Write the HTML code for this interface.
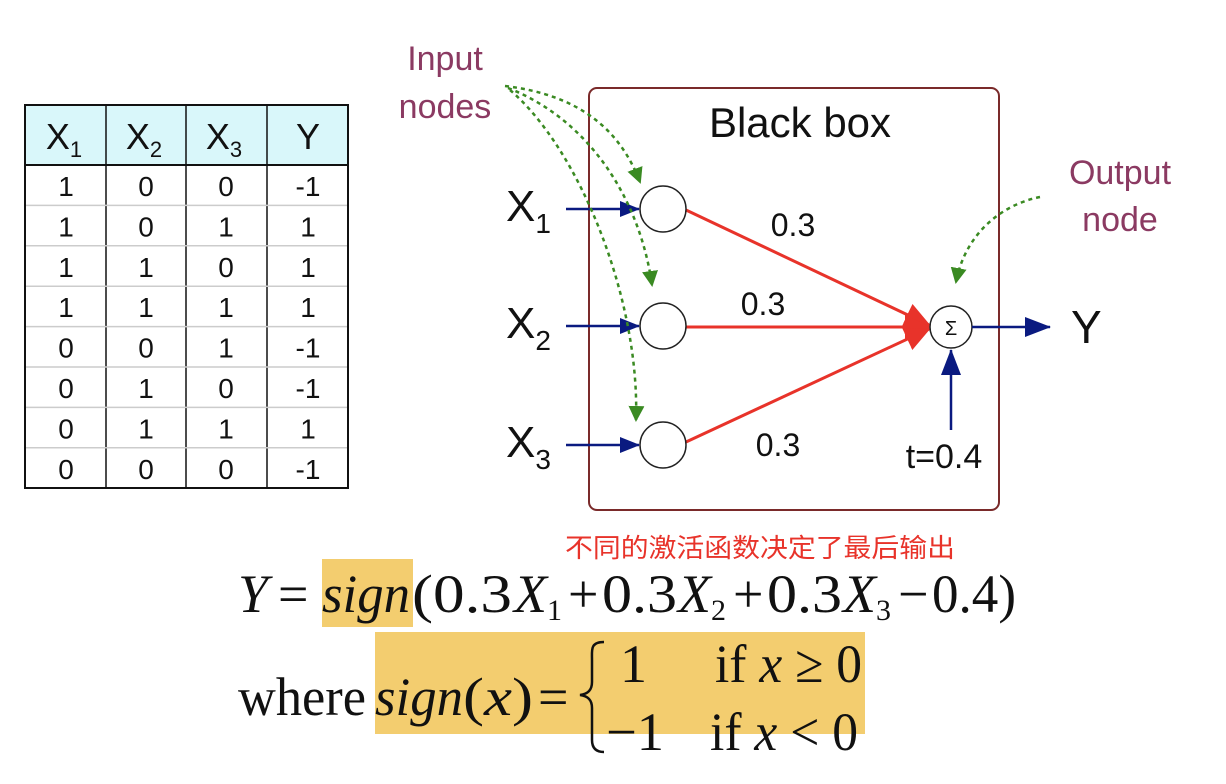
<!DOCTYPE html>
<html><head><meta charset="utf-8"><style>
html,body{margin:0;padding:0;background:#fff;}
svg{display:block;}
text{font-family:"Liberation Sans","Noto Sans CJK SC",sans-serif;}
.m{font-family:"Liberation Serif",serif;}
</style></head><body>
<svg width="1226" height="784" viewBox="0 0 1226 784">
<defs>
<marker id="ab" markerWidth="20" markerHeight="16" refX="19" refY="8" orient="auto" markerUnits="userSpaceOnUse" viewBox="0 0 20 16"><path d="M0,0 L20,8 L0,16 z" fill="#0a1a80"/></marker>
<marker id="ab2" markerWidth="26" markerHeight="20" refX="25" refY="10" orient="auto" markerUnits="userSpaceOnUse" viewBox="0 0 26 20"><path d="M0,0 L26,10 L0,20 z" fill="#0a1a80"/></marker>
<marker id="ag" markerWidth="16" markerHeight="16" refX="14" refY="8" orient="auto" markerUnits="userSpaceOnUse" viewBox="0 0 16 16"><path d="M0,0 L16,8 L0,16 z" fill="#3a8a22"/></marker>
<marker id="ar" markerWidth="26" markerHeight="24" refX="24" refY="12" orient="auto" markerUnits="userSpaceOnUse" viewBox="0 0 26 24"><path d="M0,0 L26,12 L0,24 z" fill="#e8332a"/></marker>
</defs>

<g>
<rect x="25" y="105" width="323" height="60" fill="#d9f7fa"/>
<rect x="25" y="105" width="323" height="383" fill="none" stroke="#111" stroke-width="2"/>
<line x1="25" y1="165" x2="348" y2="165" stroke="#111" stroke-width="2"/>
<g stroke="#111" stroke-width="1.5"><line x1="106" y1="105" x2="106" y2="488"/><line x1="186" y1="105" x2="186" y2="488"/><line x1="267" y1="105" x2="267" y2="488"/></g>
<g stroke="#ccc" stroke-width="1.5" id="rowlines"></g>
<g font-size="36" text-anchor="middle" fill="#111">
<text x="64" y="149">X<tspan font-size="22" dy="8">1</tspan></text>
<text x="144" y="149">X<tspan font-size="22" dy="8">2</tspan></text>
<text x="224" y="149">X<tspan font-size="22" dy="8">3</tspan></text>
<text x="308" y="149">Y</text>
</g>
<g id="cells" font-size="28" text-anchor="middle" fill="#111"></g>
</g>

<rect x="589" y="88" width="410" height="422" rx="8" fill="none" stroke="#7a2a2a" stroke-width="2"/>
<text x="800" y="137" font-size="42" text-anchor="middle" fill="#111">Black box</text>

<g stroke="#e8332a" stroke-width="3" fill="none">
<line x1="686" y1="210" x2="929" y2="325" marker-end="url(#ar)"/>
<line x1="686" y1="327" x2="929" y2="327" marker-end="url(#ar)"/>
<line x1="686" y1="442" x2="929" y2="329" marker-end="url(#ar)"/>
</g>
<g font-size="32" fill="#111" text-anchor="middle">
<text x="793" y="236">0.3</text>
<text x="763" y="315">0.3</text>
<text x="778" y="456">0.3</text>
</g>

<g fill="#fff" stroke="#222" stroke-width="1.5">
<circle cx="663" cy="209" r="23"/>
<circle cx="663" cy="326" r="23"/>
<circle cx="663" cy="445" r="23"/>
<circle cx="951" cy="327" r="21"/>
</g>
<text x="951" y="335" font-size="20" text-anchor="middle" fill="#111">Σ</text>

<g stroke="#0a1a80" stroke-width="2.5">
<line x1="566" y1="209" x2="639" y2="209" marker-end="url(#ab)"/>
<line x1="566" y1="326" x2="639" y2="326" marker-end="url(#ab)"/>
<line x1="566" y1="445" x2="639" y2="445" marker-end="url(#ab)"/>
<line x1="972" y1="327" x2="1050" y2="327" marker-end="url(#ab2)"/>
<line x1="951" y1="430" x2="951" y2="350" marker-end="url(#ab2)"/>
</g>
<g font-size="44" fill="#111">
<text x="506" y="221">X<tspan font-size="28" dy="12">1</tspan></text>
<text x="506" y="338">X<tspan font-size="28" dy="12">2</tspan></text>
<text x="506" y="457">X<tspan font-size="28" dy="12">3</tspan></text>
<text x="1071" y="343" font-size="46">Y</text>
<text x="944" y="468" font-size="34" text-anchor="middle">t=0.4</text>
</g>

<g font-size="34" fill="#8b3a62" text-anchor="middle">
<text x="445" y="70">Input</text>
<text x="445" y="118">nodes</text>
<text x="1120" y="184">Output</text>
<text x="1120" y="231">node</text>
</g>
<g stroke="#3a8a22" stroke-width="2.5" stroke-dasharray="4,4" fill="none">
<path d="M505,86 C580,95 620,130 640,182" marker-end="url(#ag)"/>
<path d="M508,88 C590,120 640,200 652,285" marker-end="url(#ag)"/>
<path d="M510,90 C580,150 640,300 636,420" marker-end="url(#ag)"/>
<path d="M1040,197 C1000,205 965,235 956,282" marker-end="url(#ag)"/>
</g>

<text x="565" y="557" font-size="26" fill="#e8332a" textLength="390" lengthAdjust="spacingAndGlyphs">不同的激活函数决定了最后输出</text>

<rect x="322" y="559" width="91" height="68" fill="#f3cd6f"/>
<rect x="375" y="632" width="490" height="102" fill="#f3cd6f"/>
<g class="m" fill="#111" font-size="54">
<text class="m" x="238" y="612" font-style="italic">Y</text>
<text class="m" x="278" y="612">=</text>
<text class="m" x="322" y="612" font-style="italic" textLength="88" lengthAdjust="spacingAndGlyphs">sign</text>
<text class="m" x="412" y="612" textLength="100" lengthAdjust="spacingAndGlyphs">(0.3</text>
<text class="m" x="514" y="612" font-style="italic">X</text>
<text class="m" x="547" y="620" font-size="30">1</text>
<text class="m" x="568" y="612">+</text>
<text class="m" x="602" y="612" textLength="75" lengthAdjust="spacingAndGlyphs">0.3</text>
<text class="m" x="678" y="612" font-style="italic">X</text>
<text class="m" x="711" y="620" font-size="30">2</text>
<text class="m" x="733" y="612">+</text>
<text class="m" x="767" y="612" textLength="75" lengthAdjust="spacingAndGlyphs">0.3</text>
<text class="m" x="843" y="612" font-style="italic">X</text>
<text class="m" x="876" y="620" font-size="30">3</text>
<text class="m" x="898" y="612">−</text>
<text class="m" x="932" y="612" textLength="84" lengthAdjust="spacingAndGlyphs">0.4)</text>
</g>
<g class="m" fill="#111" font-size="54">
<text class="m" x="238" y="715" textLength="128" lengthAdjust="spacingAndGlyphs">where</text>
<text class="m" x="375" y="715" font-style="italic" textLength="88" lengthAdjust="spacingAndGlyphs">sign</text>
<text class="m" x="463" y="715" textLength="70" lengthAdjust="spacingAndGlyphs">(<tspan font-style="italic">x</tspan>)</text>
<text class="m" x="538" y="715">=</text>
<path d="M604,642 C590,642 592,650 592,660 L592,682 C592,690 588,694 580,695 C588,696 592,700 592,708 L592,740 C592,748 596,752 604,752" stroke="#111" stroke-width="2.5" fill="none"/>
<text class="m" x="620" y="682">1</text>
<text class="m" x="715" y="682" textLength="147" lengthAdjust="spacingAndGlyphs">if <tspan font-style="italic">x</tspan> ≥ 0</text>
<text class="m" x="606" y="750" textLength="58" lengthAdjust="spacingAndGlyphs">−1</text>
<text class="m" x="710" y="750" textLength="148" lengthAdjust="spacingAndGlyphs">if <tspan font-style="italic">x</tspan> &lt; 0</text>
</g>
</svg>
<script>
const x1=[1,1,1,1,0,0,0,0];
const x2=[0,0,1,1,0,1,1,0];
const x3=[0,1,0,1,1,0,1,0];
const yv=[-1,1,1,1,-1,-1,1,-1];
const ns="http://www.w3.org/2000/svg";
const cells=document.getElementById('cells');
const rl=document.getElementById('rowlines');
const cx=[66,146,226,308];
for(let i=0;i<x1.length;i++){
  const y=165+i*40.4;
  if(i>0){const l=document.createElementNS(ns,'line');
  l.setAttribute('x1',26);l.setAttribute('x2',347);l.setAttribute('y1',y);l.setAttribute('y2',y);
  
  
  rl.appendChild(l);}
  const vals=[x1[i],x2[i],x3[i],yv[i]];
  vals.forEach((v,j)=>{const t=document.createElementNS(ns,'text');
    t.setAttribute('x',cx[j]);t.setAttribute('y',y+31);t.textContent=v;
    
    
    cells.appendChild(t);});
}
</script>
</body></html>
